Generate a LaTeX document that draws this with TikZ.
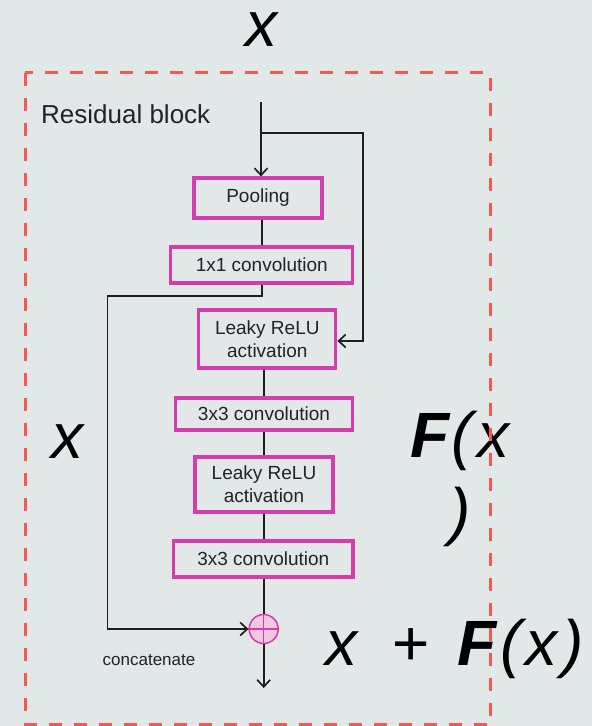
\documentclass[tikz,border=0pt]{standalone}
\usepackage{fontspec}
\setmainfont{Liberation Sans}
\usetikzlibrary{arrows.meta}
\definecolor{bg}{RGB}{226,231,231}
\definecolor{mag}{RGB}{214,60,170}
\definecolor{pinkfill}{RGB}{240,200,226}
\definecolor{dashred}{RGB}{246,88,80}
\definecolor{ln}{RGB}{30,30,30}
\definecolor{txt}{RGB}{35,35,35}
\begin{document}
\begin{tikzpicture}[x=1pt,y=-1pt,
  box/.style={draw=mag, line width=3.2pt, inner sep=0pt, text=txt,
    font=\fontsize{19}{23}\selectfont, align=center},
  flow/.style={draw=ln, line width=1.9pt},
  arr/.style={flow, -{Straight Barb[length=7pt,width=13pt,line width=1.7pt]}},
  big/.style={font=\fontsize{64}{76}\selectfont\itshape, inner sep=0pt, text=black},
  small/.style={inner sep=0pt, text=txt}]
\fill[bg] (0,0) rectangle (592,726);
\useasboundingbox (0,0) rectangle (592,726);

% coordinates
\coordinate (in) at (261,102);
\coordinate (split) at (261,133);
\coordinate (rt) at (363,133);
\coordinate (rb) at (363,341);
\coordinate (lt) at (107.5,296);
\coordinate (lb) at (107.5,629);
\coordinate (out) at (263.7,688);

% label
\node[small, anchor=base west, font=\fontsize{26}{30}\selectfont] (title) at (41,123) {Residual block};

% boxes
\node[box, minimum width=128, minimum height=40] (pool) at (258,198) {Pooling};
\node[box, minimum width=182, minimum height=36] (conv1) at (261.8,265) {1x1 convolution};
\node[box, minimum width=137, minimum height=58] (leaky1) at (267.3,339) {Leaky ReLU\\activation};
\node[box, minimum width=176.5, minimum height=32] (conva) at (264,414) {3x3 convolution};
\node[box, minimum width=138, minimum height=55] (leaky2) at (264,484.5) {Leaky ReLU\\activation};
\node[box, minimum width=179.4, minimum height=36] (convb) at (263.3,559) {3x3 convolution};
\node[circle, draw=mag, fill=pinkfill, line width=1.5pt, minimum size=29, inner sep=0pt] (plus) at (263.7,629) {};
\draw[mag, line width=1.3pt] (plus.north) -- (plus.south) (plus.west) -- (plus.east);

\node[small, anchor=base west, font=\fontsize{17}{20}\selectfont] (concat) at (102.5,665) {concatenate};

% connectors
\draw[arr] (in) -- (in |- pool.north);
\draw[arr] (split) -- (rt) -- (rb) -- (rb -| leaky1.east);
\draw[flow] (conv1.north) -- (conv1.north |- pool.south);
\draw[arr] (conv1.south) -- (conv1.south |- lt) -- (lt) -- (lb) -- (plus.west);
\draw[flow] (plus |- leaky1.south) -- (plus |- conva.north);
\draw[flow] (plus |- conva.south) -- (plus |- leaky2.north);
\draw[flow] (plus |- leaky2.south) -- (plus |- convb.north);
\draw[flow] (plus |- convb.south) -- (plus.north);
\draw[arr] (plus.south) -- (out);

% big math labels
\node[big, anchor=base west] (xtop) at (245,46) {x};
\node[big, anchor=base west] (xleft) at (51,458) {x};
\node[big, anchor=north, align=center] (fx) at (460,411) {\textbf{F}\kern2pt(\kern4pt x\\)};
\node[big, anchor=base west] (sum) at (325,665) {x\hspace{34pt}+\hspace{29pt}\textbf{F}\kern4pt(\kern4pt x\kern5pt)};

% dashed frame (drawn on top)
\draw[dashred, line width=3pt, dash pattern=on 13pt off 12pt] (25,72.5) rectangle (490,724);
\end{tikzpicture}
\end{document}
